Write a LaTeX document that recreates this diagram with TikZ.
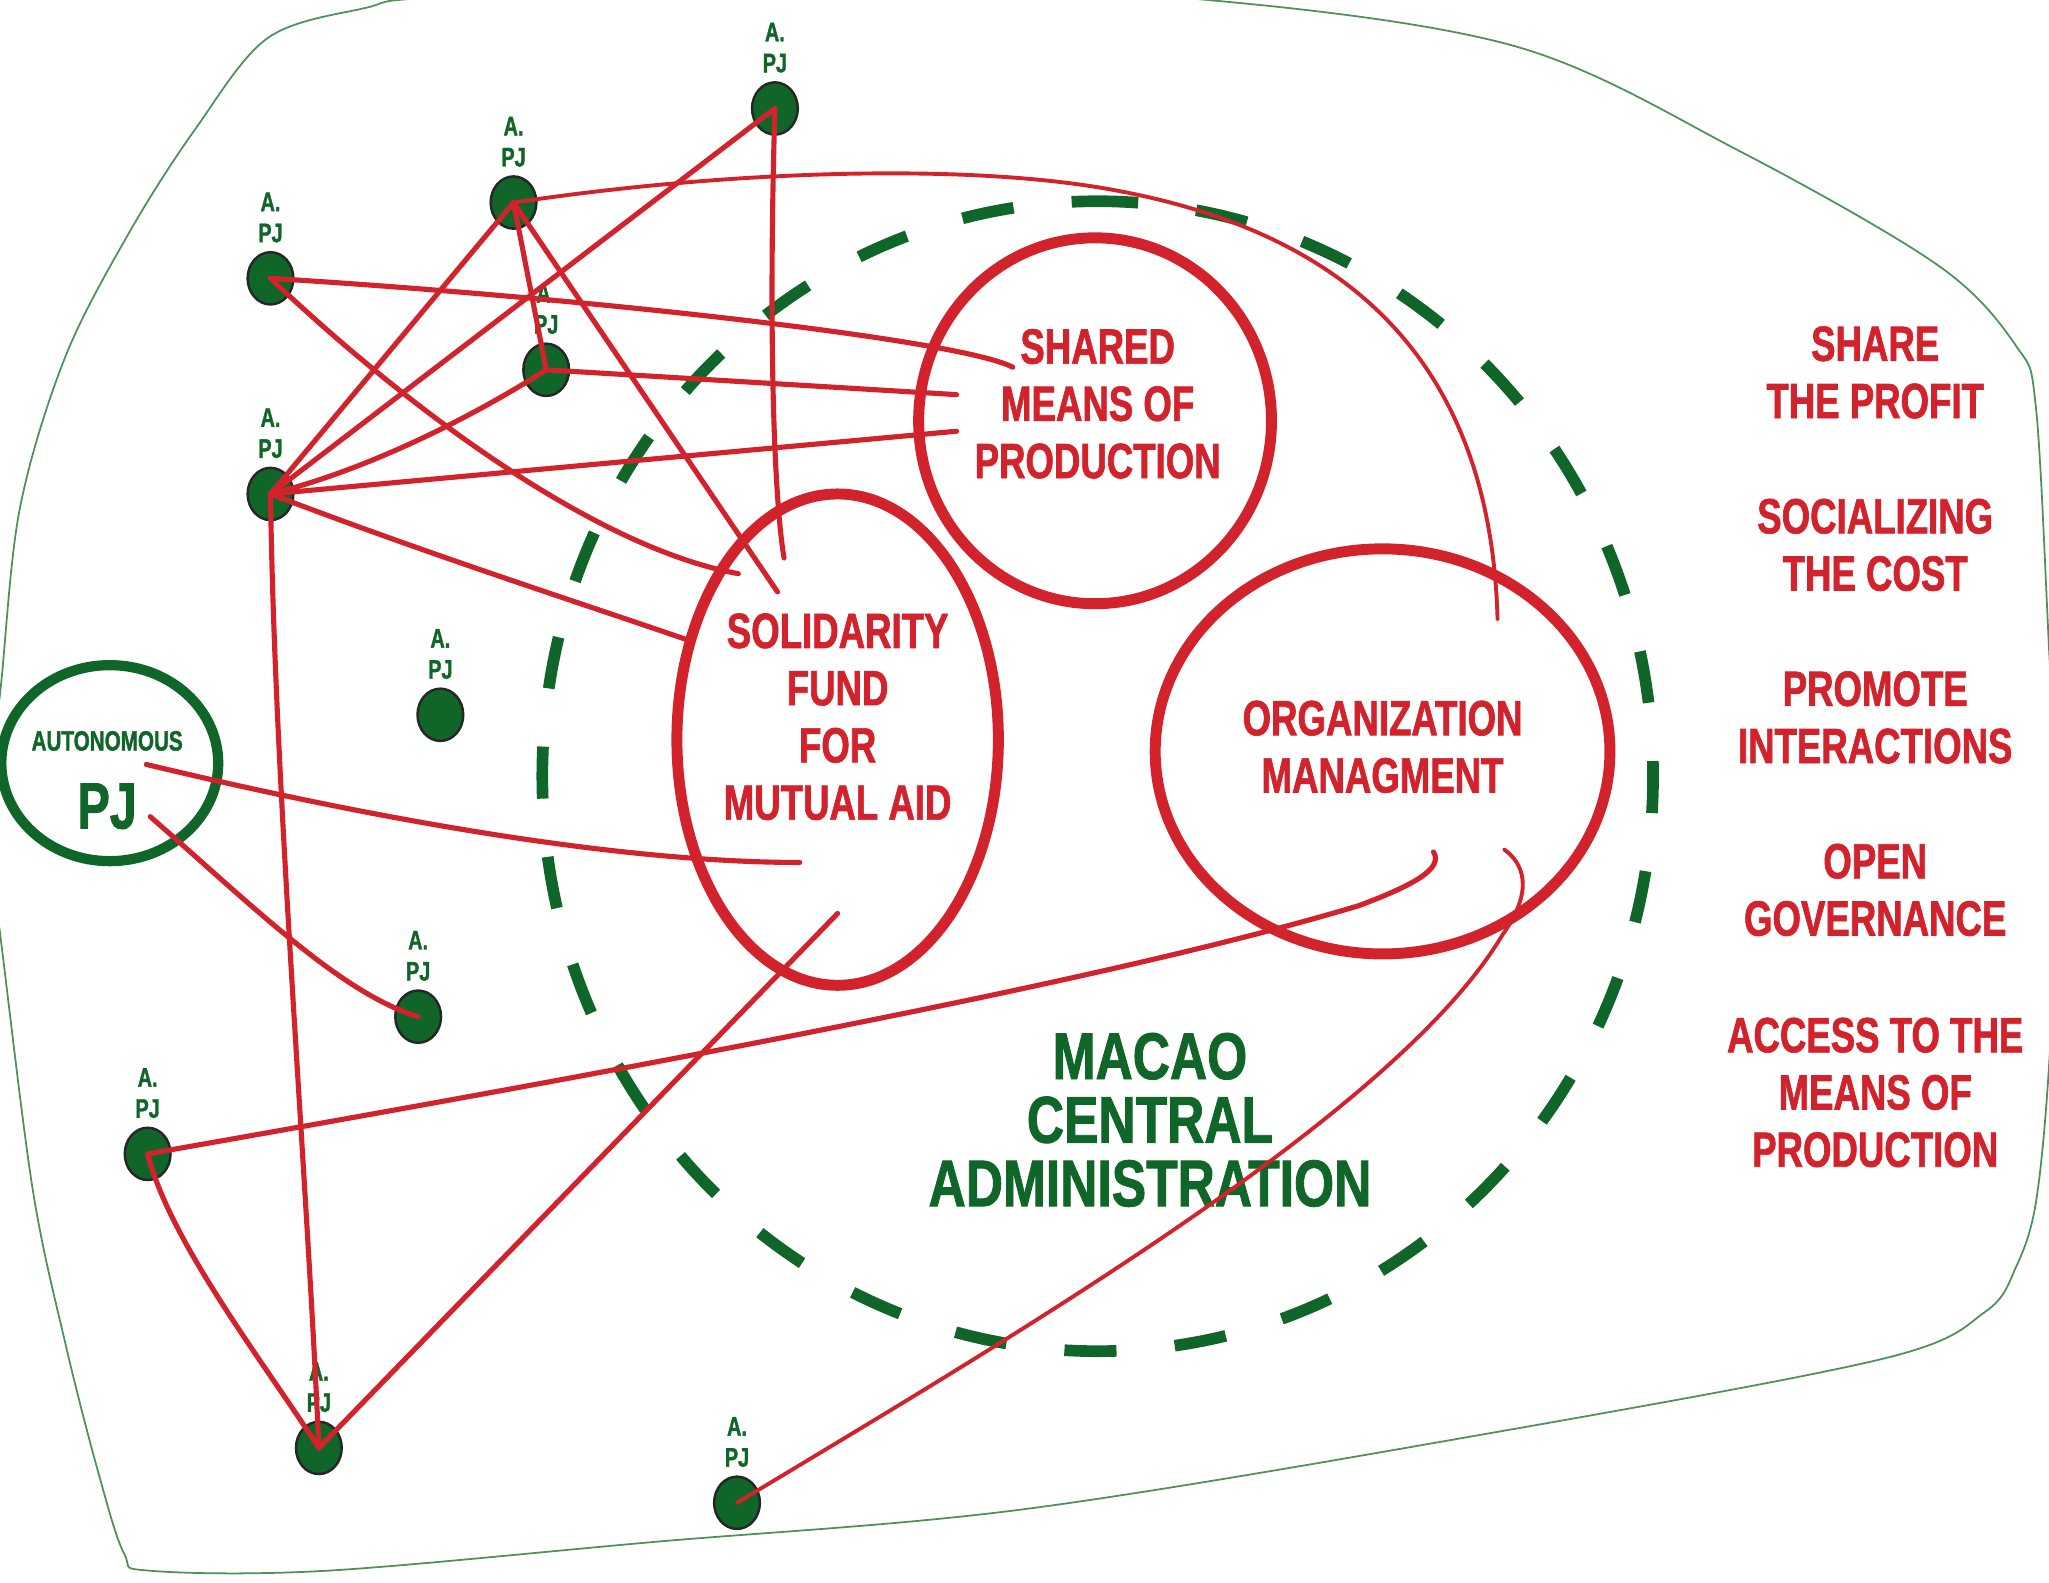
\documentclass[tikz,border=0pt]{standalone}
\usepackage{fontspec}
\newfontfamily\condb[FakeStretch=0.74,FakeBold=1.3]{Liberation Sans Bold}
\newfontfamily\condg[FakeStretch=0.78,FakeBold=1.3]{Liberation Sans Bold}
\usetikzlibrary{shapes.geometric}
\definecolor{mred}{RGB}{210,35,45}
\definecolor{mgreen}{RGB}{16,102,40}
\definecolor{lgreen}{RGB}{80,145,90}
\tikzset{
  pj/.style={ellipse, draw=black!85, line width=0.7pt, fill=mgreen, minimum width=4.55mm, minimum height=5.2mm, inner sep=0pt},
  pjtxt/.style={text=mgreen, font=\condb\fontsize{7.6}{8.8}\selectfont, align=center, inner sep=0pt},
  bigred/.style={ellipse, draw=mred, line width=3.1pt, inner sep=0pt},
  redtxt/.style={text=mred, font=\condb\fontsize{14}{16.2}\selectfont, align=center, inner sep=0pt},
  greentxt/.style={text=mgreen, font=\condg\fontsize{18.7}{18}\selectfont, align=center, inner sep=0pt},
  link/.style={draw=mred, line width=1.45pt, line cap=round, line join=round},
  thinlink/.style={link, line width=1.1pt},
}
\begin{document}
\begin{tikzpicture}[x=0.13mm,y=-0.13mm]
\useasboundingbox (0,0) rectangle (1568,1211);
\clip (0,0) rectangle (1568,1211);
% outer boundary
\draw[lgreen, line width=0.5pt] plot[smooth cycle, tension=0.55] coordinates {
 (-12,620) (0,531) (15,390) (50,273) (100,176) (150,98) (205,29) (280,6) (335,-2) (620,-12)
 (913,-1) (1158,35) (1330,115) (1483,203) (1543,265) (1558,312) (1568,496) (1575,650)
 (1568,816) (1558,920) (1543,969) (1519,1004) (1440,1040) (1133,1098) (783,1155)
 (500,1180) (250,1202) (115,1202) (95,1189) (75,1126) (50,1028) (25,910) (0,714)};
% dashed central administration ring
\draw[mgreen, line width=3.3pt, dash pattern=on 14.74pt off 16.55pt, dash phase=7.37pt]
  (840,154) arc[start angle=90, end angle=450, x radius=55.25mm, y radius=57.2mm];
% big red ellipses
\node[bigred, minimum width=35.1mm, minimum height=36.4mm] (shared) at (838,322) {};
\node[bigred, minimum width=31.98mm, minimum height=48.88mm] (fund) at (641,566) {};
\node[bigred, minimum width=45.24mm, minimum height=40.3mm] (org) at (1058,575) {};
% autonomous PJ
\node[ellipse, draw=mgreen, line width=2.9pt, minimum width=21.58mm, minimum height=19.5mm, inner sep=0pt] (auto) at (84,584) {};
\node[text=mgreen, font=\condb\fontsize{7.9}{8}\selectfont, inner sep=0pt] (autoT) at (82,567) {AUTONOMOUS};
\node[text=mgreen, font=\condb\fontsize{18.5}{20}\selectfont, inner sep=0pt] (autoPJ) at (82,617) {PJ};
% texts
\node[redtxt] (sharedT) at (840,309) {SHARED\\MEANS OF\\PRODUCTION};
\node[redtxt] (fundT) at (641,548.5) {SOLIDARITY\\FUND\\FOR\\MUTUAL AID};
\node[redtxt] (orgT) at (1058,571.5) {ORGANIZATION\\MANAGMENT};
\node[greentxt] (macao) at (880,857) {MACAO\\CENTRAL\\ADMINISTRATION};
\node[redtxt] (r1) at (1435,285) {SHARE\\THE PROFIT};
\node[redtxt] (r2) at (1435,417) {SOCIALIZING\\THE COST};
\node[redtxt] (r3) at (1435,549) {PROMOTE\\INTERACTIONS};
\node[redtxt] (r4) at (1435,681) {OPEN\\GOVERNANCE};
\node[redtxt] (r5) at (1435,836) {ACCESS TO THE\\MEANS OF\\PRODUCTION};
% A. PJ nodes
\foreach \n/\x/\y in {1/593/83, 2/393/155, 3/207/213, 4/418/283, 5/207/378, 6/337/547, 7/320/778, 8/113/883, 9/244/1108, 10/564/1150}{
  \node[pj] (p\n) at (\x,\y) {};
  \node[pjtxt] (p\n l) at (\x,\y-46.5) {A.\\PJ};
}
% free ends inside the big shapes
\coordinate (sh1) at (775,281);
\coordinate (sh2) at (732,302);
\coordinate (sh3) at (732,330);
\coordinate (fd1) at (565,439);
\coordinate (fd2) at (600,427);
\coordinate (fd3) at (595,453);
\coordinate (fd4) at (527,490);
\coordinate (fd5) at (612,660);
\coordinate (fd6) at (641,699);
\coordinate (om1) at (1146,474);
\coordinate (om2) at (1097,652);
\coordinate (om3) at (1151,650);
\coordinate (au1) at (112,585);
\coordinate (au2) at (115,625);
% connectors
\draw[thinlink] (p2.center) .. controls (560,130) and (740,125) .. (850,145) .. controls (1000,172) and (1140,250) .. (om1);
\draw[link] (p3.center) .. controls (450,228) and (735,260) .. (sh1);
\draw[link] (p3.center) .. controls (320,320) and (460,420) .. (fd1);
\draw[link] (p1.center) .. controls (588,250) and (592,380) .. (fd2);
\draw[link] (p1.center) -- (p5.center);
\draw[link] (p2.center) -- (p5.center);
\draw[link] (p2.center) -- (fd3);
\draw[link] (p2.center) -- (p4.center) -- (sh2);
\draw[link] (p5.center) .. controls (280,360) and (360,320) .. (p4.center);
\draw[link] (p5.center) -- (sh3);
\draw[link] (p5.center) .. controls (330,425) and (440,460) .. (fd4);
\draw[link] (p5.center) .. controls (210,600) and (235,900) .. (p9.center);
\draw[link] (au1) .. controls (300,630) and (480,660) .. (fd5);
\draw[link] (au2) .. controls (190,690) and (260,760) .. (p7.center);
\draw[link] (p8.center) .. controls (500,815) and (850,750) .. (1040,693) .. controls (1080,678) and (1105,665) .. (om2);
\draw[link] (p8.center) .. controls (130,950) and (200,1040) .. (p9.center);
\draw[link] (p9.center) -- (fd6);
\draw[thinlink] (p10.center) .. controls (780,1020) and (1070,850) .. (1150,715) .. controls (1175,680) and (1165,660) .. (om3);
\end{tikzpicture}
\end{document}
